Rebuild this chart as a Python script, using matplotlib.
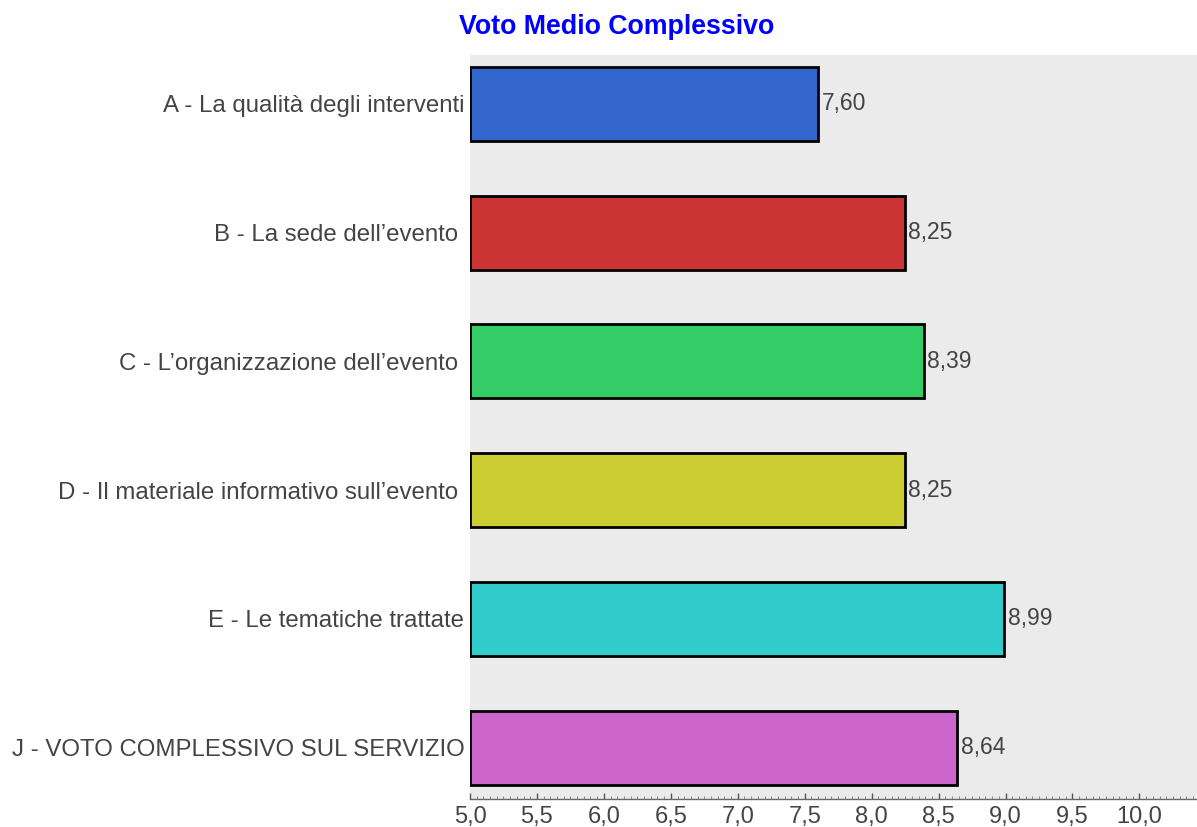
import numpy as np
import matplotlib.pyplot as plt
from matplotlib.ticker import MultipleLocator, FuncFormatter

categories = ["A - La qualità degli interventi",
              "B - La sede dell\u2019evento ",
              "C - L\u2019organizzazione dell\u2019evento ",
              "D - Il materiale informativo sull\u2019evento ",
              "E - Le tematiche trattate",
              "J - VOTO COMPLESSIVO SUL SERVIZIO"]
values = [7.60, 8.25, 8.39, 8.25, 8.99, 8.64]
colors = ["#3366CC", "#CC3333", "#33CC66", "#CCCC33", "#33CCCC", "#CC66CC"]

plt.rcParams['font.family'] = ['Liberation Sans', 'DejaVu Sans']

fig = plt.figure(figsize=(11.97, 8.27), dpi=100)
ax = fig.add_axes([470/1197, 1 - 799/827, 727/1197, 744/827])
ax.set_facecolor("#EBEBEB")

y = np.arange(len(categories))
ax.barh(y, [v - 5 for v in values], left=5, height=0.575, color=colors,
        edgecolor="black", linewidth=2, zorder=3)

for yi, v in zip(y, values):
    ax.text(v + 0.025, yi, ("%.2f" % v).replace(".", ","), va="center", ha="left",
            fontsize=16.5, color="#444444", zorder=4)

ax.set_xlim(5, 10.43)
ax.set_ylim(5.40, -0.38)
ax.set_yticks(y)
ax.set_yticklabels(categories, fontsize=17.3, color="#444444")
ax.tick_params(axis="y", length=0, pad=4)

ax.xaxis.set_major_locator(MultipleLocator(0.5))
ax.xaxis.set_minor_locator(MultipleLocator(0.05))
ax.set_xticks(np.arange(5, 10.01, 0.5))
ax.xaxis.set_major_formatter(FuncFormatter(lambda x, p: ("%.1f" % x).replace(".", ",")))
ax.tick_params(axis="x", which="major", direction="in", length=4, width=1, color="#555555",
               labelsize=17, labelcolor="#444444", pad=5)
ax.tick_params(axis="x", which="minor", direction="in", length=2, width=0.6, color="#777777")

for s in ["top", "right", "left"]:
    ax.spines[s].set_visible(False)
ax.spines["bottom"].set_color("#666666")
ax.spines["bottom"].set_linewidth(1)

fig.text(617/1197, 1 - 27/827, "Voto Medio Complessivo", ha="center", va="center",
         fontsize=19.3, fontweight="bold", color="#0000FF")

fig.savefig("out.png", dpi=100)
